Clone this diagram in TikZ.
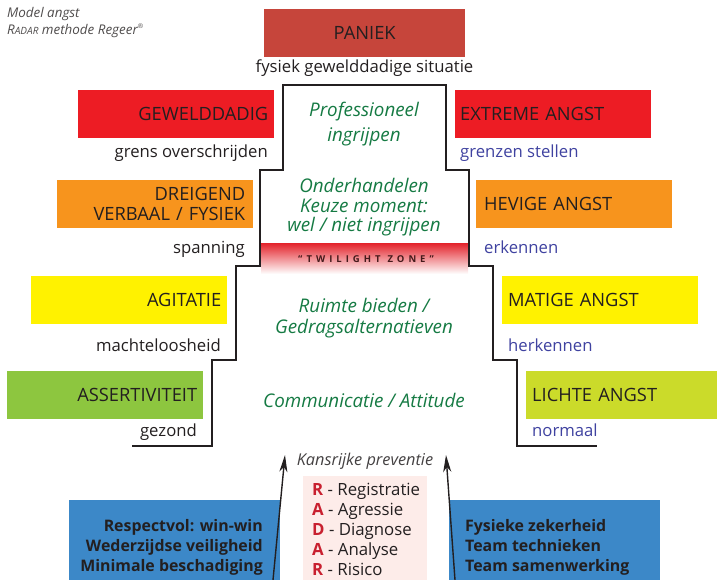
\documentclass[tikz,border=0pt]{standalone}
\usepackage{fontspec}
\setmainfont{Open Sans}
\usetikzlibrary{arrows.meta}
\definecolor{ink}{HTML}{231F20}
\definecolor{paniek}{HTML}{C6453B}
\definecolor{rood}{HTML}{ED1C24}
\definecolor{oranje}{HTML}{F7941D}
\definecolor{geel}{HTML}{FFF200}
\definecolor{groen}{HTML}{8DC63F}
\definecolor{lime}{HTML}{CBDB2A}
\definecolor{subblue}{HTML}{3F42A0}
\definecolor{grn}{HTML}{157A43}
\definecolor{blauw}{HTML}{3C88C8}
\definecolor{roze}{HTML}{FDECE9}
\definecolor{radred}{HTML}{C8202F}
\definecolor{twred}{HTML}{E3222A}
\newcommand\mycapfont{\fontsize{18.3}{21}\selectfont}
\newcommand\mysubfont{\fontsize{16.7}{20}\selectfont}
\newcommand\mygrnfont{\fontsize{18.8}{20}\selectfont\itshape}
\begin{document}
\begin{tikzpicture}[x=1pt,y=-1pt,
  lbox/.style={anchor=north west, inner xsep=6pt, inner ysep=0pt, minimum height=48pt, text width=184pt, align=right, font=\mycapfont, text=ink},
  rbox/.style={lbox, align=left},
  sub/.style={font=\mysubfont, text=ink, inner sep=0pt},
  rsub/.style={sub, text=subblue},
  grntext/.style={font=\mygrnfont, text=grn, inner sep=0pt, anchor=base},
  outline/.style={draw=ink, line width=2pt},
  arr/.style={draw=ink, line width=1.4pt, -{Stealth[length=17pt,width=8pt,inset=5pt]}},
  fillbox/.style={anchor=north west, inner sep=0pt, draw=none},
  bluetext/.style={font=\fontsize{15.9}{19}\selectfont\bfseries, text=ink, inner sep=0pt},
  radar/.style={font=\fontsize{16.8}{19}\selectfont, text=ink, inner sep=0pt, anchor=base west}
]
\useasboundingbox (0,0) rectangle (717,580);

% top-left caption
\node[anchor=base west, inner sep=0pt, text=ink!80, font=\fontsize{13.4}{15}\selectfont\itshape] (cap1) at (7,18) {Model angst};
\node[anchor=base west, inner sep=0pt, text=ink!80, font=\fontsize{13.4}{15}\selectfont\itshape] (cap2) at (7,35) {R{\fontsize{10}{12}\selectfont ADAR} methode Regeer\raisebox{0.9ex}{\fontsize{6.5}{7}\selectfont ®}};

% PANIEK
\node[fillbox, fill=paniek, minimum width=201pt, minimum height=48pt, font=\mycapfont, text=ink] (paniek) at (264,9) {PANIEK};
\node[sub, anchor=base] (fysiek) at (364.5,73) {fysiek gewelddadige situatie};

% twilight zone band
\shade[top color=twred, bottom color=white, middle color=twred!50] (261,243) rectangle (468,274);
\node[inner sep=0pt, anchor=base, text=ink!85!red, font=\fontsize{9.5}{11}\selectfont\bfseries\addfontfeature{LetterSpace=42}] (twilight) at (366,262) {“TWILIGHT\hspace{7pt}ZONE”};

% stair outline
\draw[outline] (132,446) -- (212,446) -- (212,360) -- (236,360) -- (236,266) -- (260,266) -- (260,170) -- (283,170) -- (283,85) -- (446,85) -- (446,170) -- (469,170) -- (469,266) -- (493,266) -- (493,360) -- (517,360) -- (517,446) -- (597,446);

% left boxes
\node[lbox, fill=rood] (gew) at (78,90) {GEWELDDADIG};
\node[sub, anchor=base east] (gews) at (268,158) {grens overschrijden};
\node[lbox, fill=oranje, inner xsep=8pt, text width=180pt] (dre) at (57,180) {DREIGEND\\[-1pt]VERBAAL / FYSIEK};
\node[sub, anchor=base east] (dres) at (245,253) {spanning};
\node[lbox, fill=geel] (agi) at (31,276) {AGITATIE};
\node[sub, anchor=base east] (agis) at (221,351) {machteloosheid};
\node[lbox, fill=groen] (ass) at (7,371) {ASSERTIVITEIT};
\node[sub, anchor=base east] (asss) at (197,436) {gezond};

% right boxes
\node[rbox, fill=rood, inner xsep=5pt, text width=186pt] (ext) at (455,90) {EXTREME ANGST};
\node[rsub, anchor=base west] (exts) at (460,158) {grenzen stellen};
\node[rbox, fill=oranje, inner xsep=8pt, text width=180pt] (hev) at (476,180) {HEVIGE ANGST};
\node[rsub, anchor=base west] (hevs) at (484,253) {erkennen};
\node[rbox, fill=geel] (mat) at (502,276) {MATIGE ANGST};
\node[rsub, anchor=base west] (mats) at (508,351) {herkennen};
\node[rbox, fill=lime, text width=179pt] (lic) at (526,371) {LICHTE ANGST};
\node[rsub, anchor=base west] (lics) at (532,436) {normaal};

% green centre texts
\node[grntext] (g1) at (364,117) {Professioneel};
\node[grntext] (g2) at (364,142) {ingrijpen};
\node[grntext] (g3) at (364,193) {Onderhandelen};
\node[grntext] (g4) at (364,212) {Keuze moment:};
\node[grntext] (g5) at (364,231) {wel / niet ingrijpen};
\node[grntext] (g6) at (364,312) {Ruimte bieden /};
\node[grntext] (g7) at (364,333) {Gedragsalternatieven};
\node[grntext] (g8) at (364,407) {Communicatie / Attitude};

\node[inner sep=0pt, anchor=base, text=ink!85, font=\fontsize{16.3}{18}\selectfont\itshape] (kans) at (365,465) {Kansrijke preventie};

% bottom boxes
\node[fillbox, fill=blauw, minimum width=211pt, minimum height=80pt] (blL) at (69,500) {};
\node[fillbox, fill=blauw, minimum width=211pt, minimum height=80pt] (blR) at (449,500) {};
\node[fillbox, fill=roze, minimum width=124pt, minimum height=104pt] (pink) at (303,476) {};

\node[bluetext, anchor=base east] (bl1) at (263,531) {Respectvol: win-win};
\node[bluetext, anchor=base east] (bl2) at (263,551) {Wederzijdse veiligheid};
\node[bluetext, anchor=base east] (bl3) at (263,571) {Minimale beschadiging};
\node[bluetext, anchor=base west] (br1) at (465,531) {Fysieke zekerheid};
\node[bluetext, anchor=base west] (br2) at (465,551) {Team technieken};
\node[bluetext, anchor=base west] (br3) at (465,571) {Team samenwerking};

\foreach \l/\w [count=\i] in {R/Registratie, A/Agressie, D/Diagnose, A/Analyse, R/Risico}
  \node[radar] (rad\i) at (312,475+20*\i) {\textbf{\color{radred}\l} - \w};

% arrows
\coordinate (la0) at (273,580);
\coordinate (la1) at (285,455);
\coordinate (ra0) at (455,580);
\coordinate (ra1) at (446,455);
\draw[arr] (la0) -- (la1);
\draw[arr] (ra0) -- (ra1);
\end{tikzpicture}
\end{document}
